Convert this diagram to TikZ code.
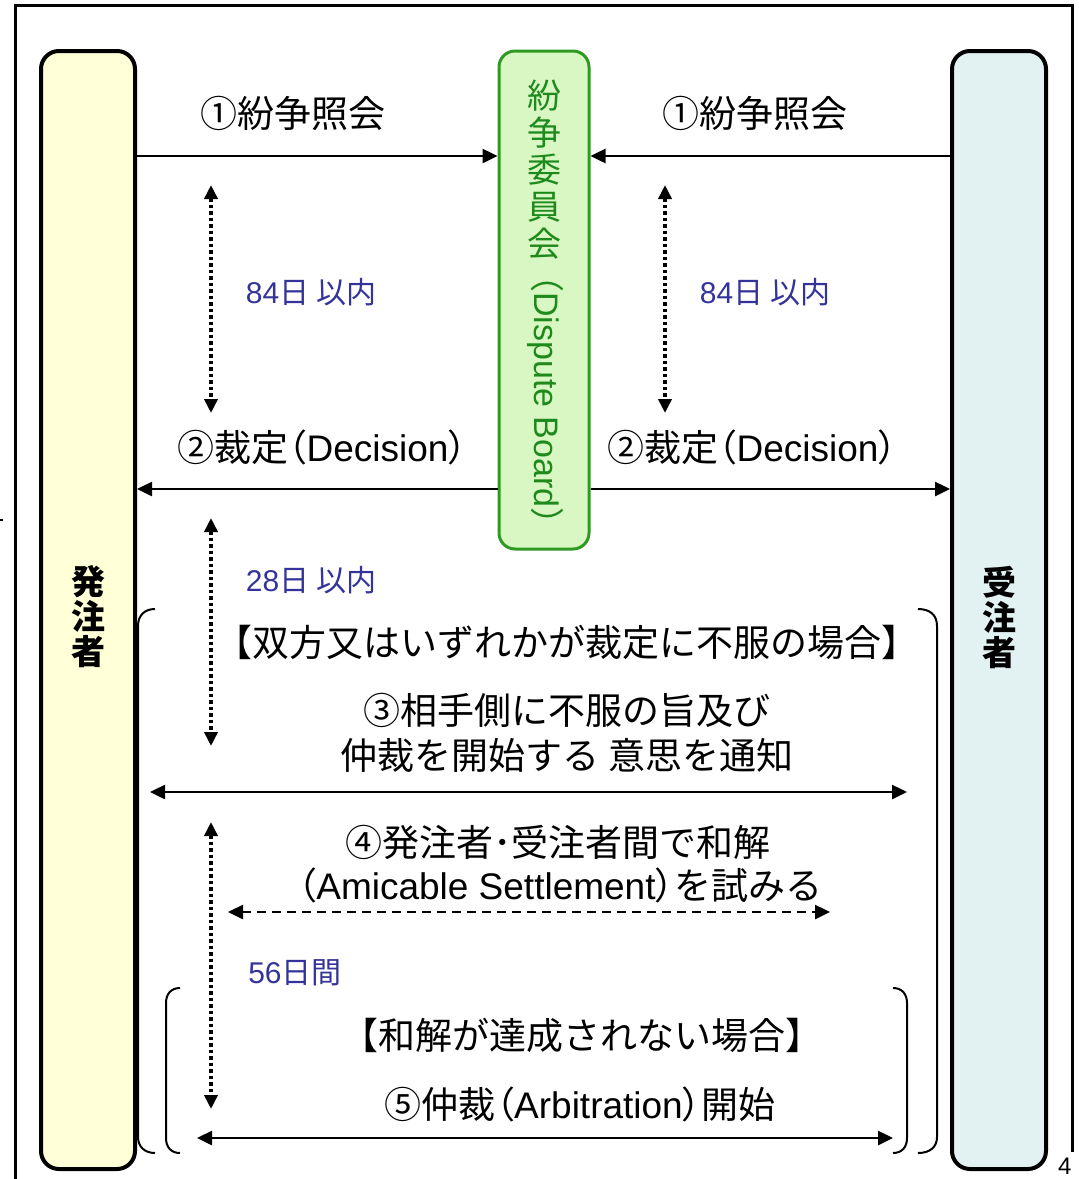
\documentclass[tikz,border=0pt]{standalone}
\usepackage{fontspec}
\setmainfont{Liberation Sans}
\newfontfamily\jp{Noto Sans CJK JP}
\newfontfamily\jpp[RawFeature=+palt]{Noto Sans CJK JP}
\usetikzlibrary{arrows.meta}
\definecolor{yfill}{HTML}{FFFFD8}
\definecolor{cfill}{HTML}{E2F2F2}
\definecolor{gfill}{HTML}{D8F7C2}
\definecolor{gline}{HTML}{2E9A22}
\definecolor{gtext}{HTML}{1E8A1E}
\definecolor{btext}{HTML}{333399}
\tikzset{
  party/.style={draw=black, line width=4pt, rounded corners=18pt, minimum width=94pt, minimum height=1118pt, inner sep=0pt},
  board/.style={draw=gline, fill=gfill, line width=3pt, rounded corners=16pt, minimum width=90pt, minimum height=498pt, inner sep=0pt},
  lbl/.style={font=\fontsize{37}{42}\selectfont, inner sep=0pt},
  days/.style={font=\fontsize{30}{34}\selectfont, text=btext, inner sep=0pt},
  vtext/.style={font=\fontsize{34}{35}\selectfont\jp\bfseries, align=center, inner sep=0pt},
  flow/.style={line width=2.5pt, -{Triangle[length=15pt,width=14pt]}},
  both/.style={line width=2.5pt, {Triangle[length=15pt,width=14pt]}-{Triangle[length=15pt,width=14pt]}},
  dots/.style={line width=3.5pt, dash pattern=on 3.5pt off 3pt, {Triangle[length=14pt,width=13pt]}-{Triangle[length=14pt,width=13pt]}},
  dashes/.style={line width=2.5pt, dash pattern=on 9pt off 6pt, {Triangle[length=15pt,width=14pt]}-{Triangle[length=15pt,width=14pt]}},
  brack/.style={line width=2pt},
}
\begin{document}
\begin{tikzpicture}[x=1pt,y=-1pt]
\useasboundingbox (0,0) rectangle (1079,1179);
% outer frame
\draw[line width=3pt] (15,1185) -- (15,5) -- (1072,5) -- (1072,1152);
\draw[line width=1.5pt] (0,520) -- (3,520);
\node[anchor=base west, inner sep=0pt, font=\fontsize{24}{28}\selectfont] (pg) at (1058,1174) {4};
% parties
\node[party, fill=yfill] (L) at (88,610) {};
\node[party, fill=cfill] (R) at (999,610) {};
\node[vtext] (Lt) at (88,617) {発\\注\\者};
\node[vtext] (Rt) at (999,617) {受\\注\\者};
% dispute board
\node[board] (DB) at (544,300) {};
\node[font=\fontsize{34}{37}\selectfont\jp, text=gtext, align=center, inner sep=0pt] (DBj) at (544,170) {紛\\争\\委\\員\\会};
\node[font=\fontsize{34}{37}\selectfont, text=gtext, rotate=-90, inner sep=0pt] (DBe) at (546,400) {{\jp （}Dispute Board{\jp ）}};
% level coordinates
\coordinate (y1) at (0,156);
\coordinate (y2) at (0,489);
% step 1
\draw[flow] (L.east |- y1) -- (DB.west |- y1);
\draw[flow] (R.west |- y1) -- (DB.east |- y1);
\node[lbl] (t1L) at (293,113) {\jp ①紛争照会};
\node[lbl] (t1R) at (755,113) {\jp ①紛争照会};
% 84 days
\coordinate (d1a) at (211,185); \coordinate (d1b) at (211,413);
\coordinate (d2a) at (665,185); \coordinate (d2b) at (665,413);
\draw[dots] (d1a) -- (d1b);
\draw[dots] (d2a) -- (d2b);
\node[days] (k1) at (311,292) {84{\jp 日 以内}};
\node[days] (k2) at (765,292) {84{\jp 日 以内}};
% step 2
\node[lbl] (t2L) at (322,447) {{\jp ②裁定}{\jpp （}Decision{\jpp ）}};
\node[lbl] (t2R) at (752,447) {{\jp ②裁定}{\jpp （}Decision{\jpp ）}};
\draw[flow] (DB.west |- y2) -- (L.east |- y2);
\draw[flow] (DB.east |- y2) -- (R.west |- y2);
% 28 days
\coordinate (d3a) at (211,518); \coordinate (d3b) at (211,746);
\draw[dots] (d3a) -- (d3b);
\node[days] (k3) at (311,580) {28{\jp 日 以内}};
% big bracket
\draw[brack] (155,609) .. controls (145,609) and (138,615) .. (138,626) -- (138,1137) .. controls (138,1147) and (145,1153) .. (155,1153);
\draw[brack] (918,609) .. controls (930,609) and (937,615) .. (937,626) -- (937,1137) .. controls (937,1147) and (930,1153) .. (918,1153);
\node[lbl] (c1) at (567,642) {\jp 【双方又はいずれかが裁定に不服の場合】};
% step 3
\node[lbl] (t3a) at (567,710) {\jp ③相手側に不服の旨及び};
\node[lbl] (t3b) at (567,755) {\jp 仲裁を開始する 意思を通知};
\coordinate (a3l) at (150,792); \coordinate (a3r) at (907,792);
\draw[both] (a3l) -- (a3r);
% 56 days
\coordinate (d4a) at (211,822); \coordinate (d4b) at (211,1109);
\draw[dots] (d4a) -- (d4b);
\node[days] (k4) at (295,973) {56{\jp 日間}};
% step 4
\node[lbl] (t4a) at (558,842) {\jp ④発注者･受注者間で和解};
\node[lbl] (t4b) at (560,885) {{\jpp （}Amicable Settlement{\jpp ）}{\jp を試みる}};
\coordinate (a4l) at (228,912); \coordinate (a4r) at (830,912);
\draw[dashes] (a4l) -- (a4r);
% inner bracket
\draw[brack] (180,988) .. controls (171,988) and (166,994) .. (166,1003) -- (166,1138) .. controls (166,1147) and (171,1153) .. (180,1153);
\draw[brack] (893,988) .. controls (902,988) and (907,994) .. (907,1003) -- (907,1138) .. controls (907,1147) and (902,1153) .. (893,1153);
\node[lbl] (c2) at (582,1035) {\jp 【和解が達成されない場合】};
% step 5
\node[lbl] (t5) at (580,1104) {{\jp ⑤仲裁}{\jpp （}Arbitration{\jpp ）}{\jp 開始}};
\coordinate (a5l) at (197,1138); \coordinate (a5r) at (893,1138);
\draw[both] (a5l) -- (a5r);
\end{tikzpicture}
\end{document}
